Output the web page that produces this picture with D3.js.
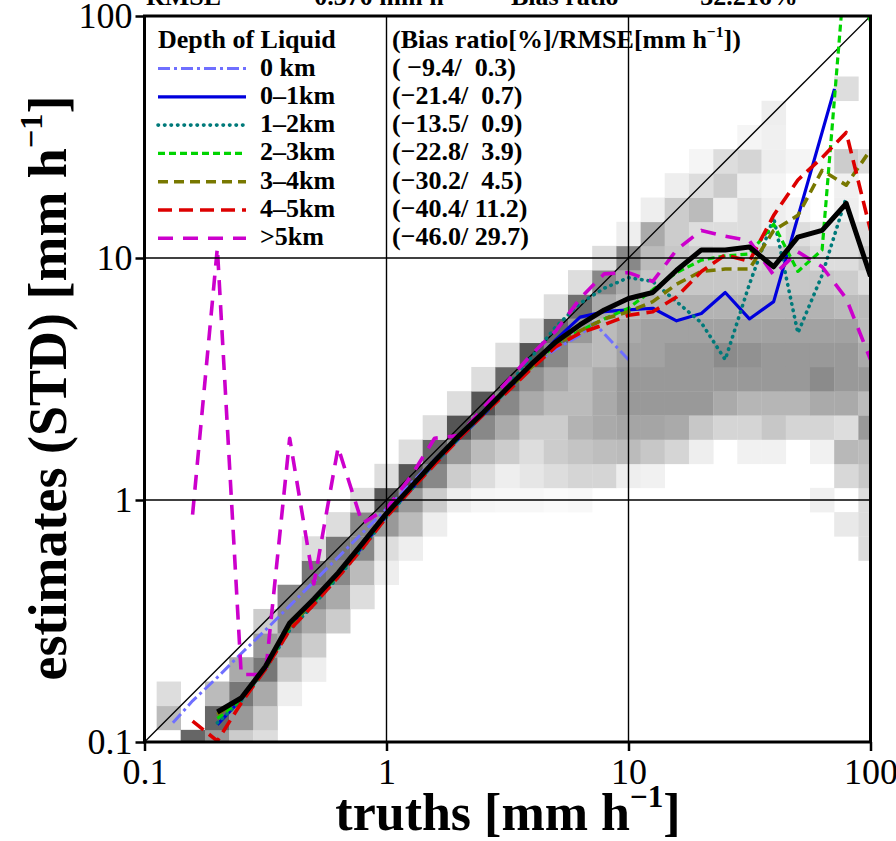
<!DOCTYPE html>
<html>
<head>
<meta charset="utf-8">
<script src="https://cdn.jsdelivr.net/npm/d3@7"></script>
<style>
  html, body { margin: 0; padding: 0; background: #fff; }
  svg { display: block; }
  text { font-family: "Liberation Serif", "Times New Roman", serif; }
</style>
</head>
<body>
<svg id="chart" width="896" height="841"></svg>
<script>
// ---- data -------------------------------------------------------------
// bin centres (mm/h), 10 bins per decade
const binCenters = [0.1, 0.126, 0.158, 0.2, 0.251, 0.316, 0.398, 0.501, 0.631, 0.794,
  1, 1.26, 1.58, 2.0, 2.51, 3.16, 3.98, 5.01, 6.31, 7.94,
  10, 12.6, 15.8, 20.0, 25.1, 31.6, 39.8, 50.1, 63.1, 79.4, 100];

// joint frequency (0..10), per truth column: [first estimate bin, values upward]
const densityColumns = [
  [0, []],
  [1, [4, 2]],
  [0, [9]],
  [0, [6, 9, 4]],
  [0, [3, 6, 8, 5]],
  [0, [2, 3, 5, 8, 6, 3]],
  [2, [1, 3, 5, 7, 7]],
  [3, [1, 3, 5, 7, 8, 2]],
  [5, [3, 5, 7, 8, 2]],
  [6, [2, 4, 7, 7, 2]],
  [7, [1, 2, 6, 10, 2]],
  [8, [1, 4, 6, 10, 2]],
  [9, [1, 3, 7, 9, 2]],
  [10, [1, 3, 6, 10, 2]],
  [10, [0.6, 2, 4, 7, 10, 2]],
  [10, [0.5, 1, 3, 5, 7, 9, 2]],
  [10, [0.5, 1.5, 2, 3, 5, 6.5, 10, 2]],
  [10, [0.3, 2, 3, 3, 4, 5, 7, 9, 2]],
  [10, [0.4, 2.5, 3.5, 4.5, 4, 4, 4.5, 6, 8.5, 2]],
  [11, [2.5, 3.8, 5, 5, 5, 4, 4, 5, 7, 2]],
  [11, [1, 4, 5.3, 6, 6, 5.5, 5, 4, 5, 7, 1]],
  [11, [0.8, 3.3, 5.3, 6, 6, 5.5, 5.5, 4.5, 3.3, 4, 5, 1]],
  [12, [2.5, 5, 6, 6, 6, 5.5, 4.5, 3.3, 3.3, 3, 3, 1]],
  [12, [1, 3.3, 6, 6, 6, 5.5, 4.5, 3.3, 3, 2, 4, 2, 0.6]],
  [13, [2.5, 5, 6, 6.8, 5.5, 4.5, 3.3, 2.5, 2, 1, 3, 2]],
  [12, [0.8, 2.5, 4.3, 6, 6.5, 5.5, 4.5, 3.3, 2.5, 2, 2, 1, 2.5, 0.6]],
  [12, [0.8, 3.3, 4.3, 6, 6, 5.5, 4.5, 3.3, 3, 1, 1, 0.6, 1, 0.9, 1]],
  [13, [2.5, 4.3, 6, 6, 5.5, 4.5, 3.3, 3, 2, 0.6, 0, 0.6]],
  [10, [0.9, 0, 0.8, 2.5, 5, 6.8, 6, 5.5, 4.5, 3.3, 2, 1.5, 0, 0, 0.4]],
  [9, [1.3, 0, 2.3, 4.2, 2, 5, 6, 6, 5.5, 4, 3, 2, 2, 1, 0.9, 3, 0, 0, 2]],
  [8, [2, 2, 2, 3.3, 4, 6, 4, 6, 5, 4, 4, 2, 3, 2, 0, 0, 2]]
];

// mean estimates per truth bin ([truth, estimate])
const depth0km = [[0.131, 0.12], [0.158, 0.148], [0.2, 0.185], [0.251, 0.232], [0.316, 0.29],
  [0.398, 0.365], [0.501, 0.46], [0.631, 0.58], [0.794, 0.73], [1, 0.92], [1.26, 1.17],
  [1.58, 1.47], [2.0, 1.85], [2.51, 2.33], [3.16, 2.9], [3.98, 3.6], [5.01, 4.2],
  [6.31, 4.8], [7.2, 5.4], [10, 3.8]];
const depth0to1 = [[0.2, 0.118], [0.251, 0.15], [0.316, 0.2], [0.398, 0.3], [0.501, 0.38],
  [0.631, 0.49], [0.794, 0.64], [1, 0.86], [1.26, 1.1], [1.58, 1.42], [2.0, 1.8], [2.51, 2.25],
  [3.16, 2.85], [3.98, 3.6], [5.01, 4.6], [6.31, 5.7], [7.94, 6.0], [10, 6.1], [12.6, 6.2],
  [15.8, 5.5], [20.0, 5.9], [25.1, 7.2], [31.6, 5.6], [39.8, 6.6], [71, 50]];
const depth1to2 = [[0.2, 0.12], [0.251, 0.148], [0.316, 0.2], [0.398, 0.29], [0.501, 0.37],
  [0.631, 0.48], [0.794, 0.63], [1, 0.85], [1.26, 1.1], [1.58, 1.42], [2.0, 1.82], [2.51, 2.3],
  [3.16, 2.95], [3.98, 3.9], [5.01, 5.2], [6.31, 6.5], [7.94, 7.5], [10, 8.3], [12.6, 8.0],
  [15.8, 6.6], [20.0, 5.4], [25.1, 3.8], [31.6, 7.8], [39.8, 14.7], [50.1, 4.9], [63.1, 8.5],
  [79.4, 17.8]];
const depth2to3 = [[0.2, 0.125], [0.251, 0.15], [0.316, 0.2], [0.398, 0.3], [0.501, 0.38],
  [0.631, 0.49], [0.794, 0.65], [1, 0.87], [1.26, 1.11], [1.58, 1.43], [2.0, 1.82], [2.51, 2.28],
  [3.16, 2.85], [3.98, 3.55], [5.01, 4.4], [6.31, 5.0], [7.94, 5.6], [10, 6.2], [12.6, 7.4],
  [15.8, 8.7], [20.0, 9.8], [25.1, 10.2], [31.6, 10.4], [39.8, 13.8], [50.1, 8.8], [63.1, 10.8],
  [79.4, 180], [100, 95]];
const depth3to4 = [[0.2, 0.13], [0.251, 0.152], [0.316, 0.2], [0.398, 0.3], [0.501, 0.385],
  [0.631, 0.5], [0.794, 0.66], [1, 0.88], [1.26, 1.12], [1.58, 1.44], [2.0, 1.83], [2.51, 2.28],
  [3.16, 2.85], [3.98, 3.55], [5.01, 4.4], [6.31, 5.0], [7.94, 5.6], [10, 6.0], [12.6, 6.6],
  [15.8, 7.8], [20.0, 8.8], [25.1, 9.0], [31.6, 9.0], [39.8, 13], [50.1, 15], [63.1, 23],
  [79.4, 20], [100, 28]];
const depth4to5 = [[0.158, 0.122], [0.2, 0.101], [0.251, 0.145], [0.316, 0.2], [0.398, 0.29],
  [0.501, 0.37], [0.631, 0.48], [0.794, 0.63], [1, 0.85], [1.26, 1.1], [1.58, 1.4], [2.0, 1.8],
  [2.51, 2.25], [3.16, 2.8], [3.98, 3.5], [5.01, 4.3], [6.31, 4.9], [7.94, 5.3], [10, 5.8],
  [12.6, 6.0], [15.8, 6.9], [20.0, 8.8], [25.1, 10.3], [31.6, 9.7], [39.8, 15], [50.1, 21],
  [63.1, 26], [79.4, 33], [100, 13]];
const depthOver5 = [[0.158, 0.87], [0.2, 11], [0.251, 0.19], [0.316, 0.19], [0.398, 1.8],
  [0.501, 0.45], [0.631, 1.65], [0.794, 0.8], [1, 0.92], [1.26, 1.25], [1.58, 1.8], [2.0, 1.85],
  [2.51, 2.4], [3.16, 3.1], [3.98, 4.0], [5.01, 5.0], [6.31, 6.8], [7.94, 8.6], [10, 8.7],
  [12.6, 8.0], [15.8, 10.8], [20.0, 13], [25.1, 12.3], [31.6, 11.8], [39.8, 8.5], [50.1, 10.6],
  [63.1, 9.2], [79.4, 6.8], [100, 3.8]];
const allDepths = [[0.2, 0.133], [0.251, 0.152], [0.316, 0.205], [0.398, 0.31], [0.501, 0.39],
  [0.631, 0.5], [0.794, 0.66], [1, 0.88], [1.26, 1.13], [1.58, 1.45], [2.0, 1.85], [2.51, 2.3],
  [3.16, 2.9], [3.98, 3.65], [5.01, 4.5], [6.31, 5.3], [7.94, 6.1], [10, 6.8], [12.6, 7.2],
  [15.8, 8.9], [20.0, 10.8], [25.1, 10.8], [31.6, 11.1], [39.8, 9.2], [50.1, 12.2], [63.1, 13],
  [79.4, 16.8], [100, 8.4]];

const legendLabels = ["0 km", "0\u20131km", "1\u20132km", "2\u20133km", "3\u20134km", "4\u20135km", ">5km"];
const biasRatio = [" \u22129.4", "\u221221.4", "\u221213.5", "\u221222.8", "\u221230.2", "\u221240.4", "\u221246.0"];
const rmse = ["  0.3", "  0.7", "  0.9", "  3.9", "  4.5", " 11.2", " 29.7"];
const tickValues = [0.1, 1, 10, 100];
const tickLabels = ["0.1", "1", "10", "100"];

// ---- drawing ----------------------------------------------------------
const svg = d3.select("#chart");
const x = d3.scaleLog().domain([0.1, 100]).range([144.5, 870.5]);
const y = d3.scaleLog().domain([0.1, 100]).range([742, 16]);
const shade = d3.scaleLinear().domain([0, 10]).range(["#ffffff", "#555555"]);
const keepSpaces = s => s.replace(/ /g, "\u00A0");

svg.append("defs").append("clipPath").attr("id", "plotClip")
  .append("rect").attr("x", x(0.1)).attr("y", y(100))
  .attr("width", x(100) - x(0.1)).attr("height", y(0.1) - y(100));

const plot = svg.append("g").attr("clip-path", "url(#plotClip)");

// bin edges: geometric midpoints between neighbouring centres
const n = binCenters.length;
const lo = i => i === 0 ? binCenters[0] * binCenters[0] / binCenters[1] : binCenters[i - 1];
const hi = i => i === n - 1 ? binCenters[n - 1] * binCenters[n - 1] / binCenters[n - 2] : binCenters[i + 1];
const edgeLo = i => Math.sqrt(lo(i) * binCenters[i]);
const edgeHi = i => Math.sqrt(hi(i) * binCenters[i]);

const cells = [];
densityColumns.forEach(([j0, vals], i) => {
  vals.forEach((v, k) => { if (v > 0) cells.push({ i, j: j0 + k, v }); });
});

plot.append("g").selectAll("rect").data(cells).join("rect")
  .attr("x", d => x(edgeLo(d.i)))
  .attr("width", d => x(edgeHi(d.i)) - x(edgeLo(d.i)) + 0.3)
  .attr("y", d => y(edgeHi(d.j)))
  .attr("height", d => y(edgeLo(d.j)) - y(edgeHi(d.j)) + 0.3)
  .attr("fill", d => shade(d.v));

// grid lines at the decades
const grid = svg.append("g").attr("stroke", "#000").attr("stroke-width", 1.4);
[1, 10].forEach(v => {
  grid.append("line").attr("x1", x(v)).attr("x2", x(v)).attr("y1", y(0.1)).attr("y2", y(100));
  grid.append("line").attr("y1", y(v)).attr("y2", y(v)).attr("x1", x(0.1)).attr("x2", x(100));
});

// 1:1 line
plot.append("line").attr("x1", x(0.1)).attr("y1", y(0.1)).attr("x2", x(100)).attr("y2", y(100))
  .attr("stroke", "#000").attr("stroke-width", 1.3);

const styles = [
  { data: depth0km, color: "#6f6fff", width: 3, dash: "12,4,3,4", cap: "butt" },
  { data: depth0to1, color: "#0000dd", width: 3.2, dash: null, cap: "butt" },
  { data: depth1to2, color: "#007a7a", width: 3.6, dash: "0.5,6", cap: "round" },
  { data: depth2to3, color: "#00d400", width: 3.2, dash: "7,4", cap: "butt" },
  { data: depth3to4, color: "#787800", width: 3.6, dash: "10,6", cap: "butt" },
  { data: depth4to5, color: "#dd0000", width: 3.6, dash: "14,7", cap: "butt" },
  { data: depthOver5, color: "#cc00cc", width: 3.6, dash: "15,10", cap: "butt" }
];

const line = d3.line().x(d => x(d[0])).y(d => y(d[1]));

styles.forEach(s => {
  plot.append("path").attr("d", line(s.data))
    .attr("fill", "none").attr("stroke", s.color).attr("stroke-width", s.width)
    .attr("stroke-dasharray", s.dash).attr("stroke-linecap", s.cap)
    .attr("stroke-linejoin", "round");
});
plot.append("path").attr("d", line(allDepths))
  .attr("fill", "none").attr("stroke", "#000").attr("stroke-width", 5)
  .attr("stroke-linejoin", "round");

// frame and ticks
svg.append("rect").attr("x", x(0.1)).attr("y", y(100))
  .attr("width", x(100) - x(0.1)).attr("height", y(0.1) - y(100))
  .attr("fill", "none").attr("stroke", "#000").attr("stroke-width", 3);

const xAxis = d3.axisBottom(x).tickValues(tickValues).tickFormat((d, i) => tickLabels[i])
  .tickSize(9).tickSizeOuter(0);
const yAxis = d3.axisLeft(y).tickValues(tickValues).tickFormat((d, i) => tickLabels[i])
  .tickSize(9).tickSizeOuter(0);

const gx = svg.append("g").attr("transform", `translate(0,${y(0.1)})`).call(xAxis);
const gy = svg.append("g").attr("transform", `translate(${x(0.1)},0)`).call(yAxis);
[gx, gy].forEach(g => {
  g.select(".domain").remove();
  g.selectAll(".tick line").attr("stroke", "#000").attr("stroke-width", 2.5);
  g.selectAll(".tick text").attr("fill", "#000")
    .style("font-family", "'Liberation Serif', serif").style("font-size", "36px");
});
gx.selectAll(".tick text").attr("dy", null).attr("y", 42);
gy.selectAll(".tick text").attr("x", -12).attr("dy", "0.33em");

// axis titles
function unitText(sel, before) {
  sel.append("tspan").text(before + "[mm h");
  sel.append("tspan").text("\u22121").attr("font-size", "60%").attr("dy", "-0.75em");
  sel.append("tspan").text("]").attr("dy", "0.45em");
}
const xTitle = svg.append("text").attr("x", 508).attr("y", 830)
  .attr("text-anchor", "middle").attr("font-weight", "bold").attr("font-size", 52);
unitText(xTitle, "truths ");
const yTitle = svg.append("text").attr("transform", "translate(66,388) rotate(-90)")
  .attr("text-anchor", "middle").attr("font-weight", "bold").attr("font-size", 54);
unitText(yTitle, "estimates (STD) ");

// summary line along the top edge
const topRow = svg.append("g").attr("font-weight", "bold").attr("font-size", 26);
topRow.append("text").attr("x", 146).attr("y", 5).text("RMSE");
const rm = topRow.append("text").attr("x", 293).attr("y", 5);
rm.append("tspan").text("= 0.370 mm h");
rm.append("tspan").text("\u22121").attr("font-size", "60%").attr("dy", "-0.7em");
topRow.append("text").attr("x", 511).attr("y", 5).text("Bias ratio");
topRow.append("text").attr("x", 664).attr("y", 5).text("= \u221232.216%");

// legend
const leg = svg.append("g").attr("font-weight", "bold").attr("font-size", 26);
leg.append("text").attr("x", 158).attr("y", 48).text("Depth of Liquid");
const hdr = leg.append("text").attr("x", 392).attr("y", 48);
hdr.append("tspan").text("(Bias ratio[%]/RMSE[mm h");
hdr.append("tspan").text("\u22121").attr("font-size", "60%").attr("dy", "-0.7em");
hdr.append("tspan").text("])").attr("dy", "0.42em");

styles.forEach((s, k) => {
  const base = 75.5 + 28.3 * k;
  leg.append("line").attr("x1", 158).attr("x2", 246).attr("y1", base - 7).attr("y2", base - 7)
    .attr("stroke", s.color).attr("stroke-width", s.width)
    .attr("stroke-dasharray", s.dash).attr("stroke-linecap", s.cap);
  leg.append("text").attr("x", 260).attr("y", base).text(legendLabels[k]);
  leg.append("text").attr("x", 392).attr("y", base)
    .text(keepSpaces(`(${biasRatio[k]}/${rmse[k]})`));
});
</script>
</body>
</html>
